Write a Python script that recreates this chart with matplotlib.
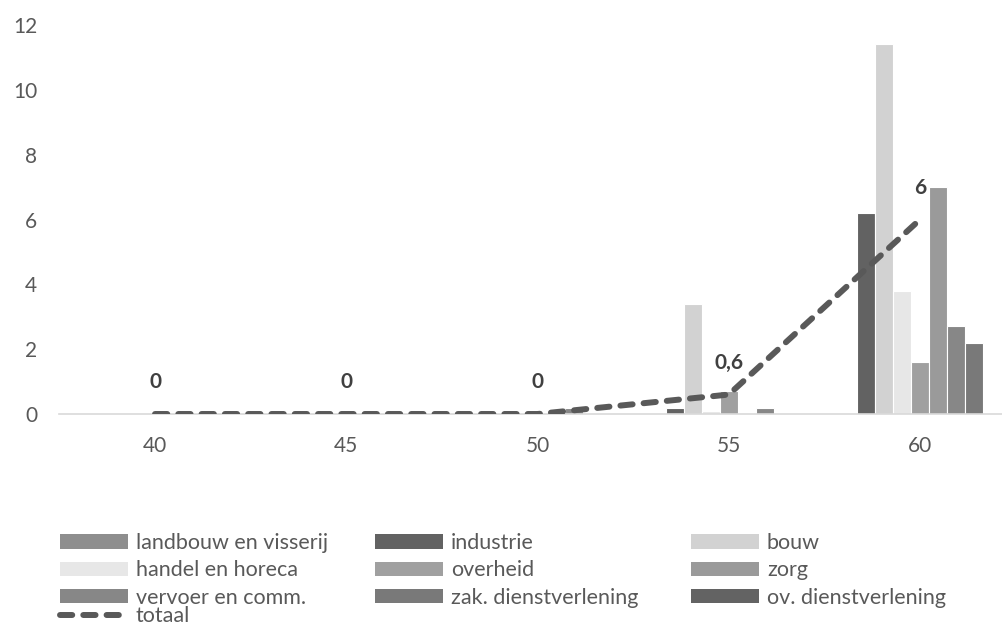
import numpy as np
import matplotlib
matplotlib.use("Agg")
import matplotlib.pyplot as plt
from matplotlib.patches import Patch
from matplotlib.lines import Line2D

# ---------------- data ----------------
categories = ["40", "45", "50", "55", "60"]
series_names = ["landbouw en visserij", "industrie", "bouw", "handel en horeca",
                "overheid", "zorg", "vervoer en comm.", "zak. dienstverlening",
                "ov. dienstverlening"]
landbouw = [0, 0, 0, 0, 0]
industrie = [0, 0, 0, 0.2, 6.2]
bouw = [0, 0, 0, 3.4, 11.4]
handel = [0, 0, 0, 0.1, 3.8]
overheid = [0, 0, 0, 0.7, 1.6]
zorg = [0, 0, 0, 0, 7.0]
vervoer = [0, 0, 0.2, 0.2, 2.7]
zak = [0, 0, 0, 0, 2.2]
ov_dienst = [0, 0, 0, 0, 0]
totaal = [0, 0, 0, 0.6, 6]
totaal_labels = ["0", "0", "0", "0,6", "6"]
y_ticks = [0, 2, 4, 6, 8, 10, 12]

series_values = [landbouw, industrie, bouw, handel, overheid, zorg, vervoer, zak, ov_dienst]
colors = ["#8e8e8e", "#626262", "#d2d2d2", "#e7e7e7", "#a0a0a0",
          "#9a9a9a", "#878787", "#797979", "#636363"]

FONT = "Lato"
FS = 15
LFS = 15.5
TXT = "#595959"

W, H = 1003, 627
fig = plt.figure(figsize=(W / 100, H / 100), dpi=100)
# axes: category centre spacing ~191 px, first centre at x=155; y=0 at 414 px, y=12 at 25 px
ax = fig.add_axes([59.4 / W, (H - 414) / H, 956.25 / W, 389 / H])

x = np.arange(len(categories))
bw = 18 / 191.25
n = len(series_values)
for i, (name, vals, c) in enumerate(zip(series_names, series_values, colors)):
    ax.bar(x + (i - (n - 1) / 2) * bw, vals, width=bw, color=c,
           edgecolor="white", linewidth=0.8, label=name, zorder=2)

lw = 4.3
line, = ax.plot(x, totaal, color="#595959", linewidth=lw, solid_capstyle="round",
                dash_capstyle="round", dash_joinstyle="round", zorder=3)
line.set_dashes([2.05, 1.85])

for xi, yi, lab in zip(x, totaal, totaal_labels):
    ax.annotate(lab, (xi, yi), xytext=(0, 23), textcoords="offset points",
                ha="center", va="center", fontsize=FS, fontweight="bold",
                color="#404040", family=FONT)

ax.set_xlim(-0.5, len(categories) - 0.5)
ax.set_ylim(0, 12)
ax.set_xticks(x)
ax.set_xticklabels(categories)
ax.set_yticks(y_ticks)
for s in ["top", "right", "left"]:
    ax.spines[s].set_visible(False)
ax.spines["bottom"].set_color("#d9d9d9")
ax.spines["bottom"].set_linewidth(1.2)
ax.spines["bottom"].set_zorder(2.5)
ax.tick_params(axis="both", length=0, pad=16, labelsize=FS, labelcolor=TXT)
for lab in ax.get_xticklabels() + ax.get_yticklabels():
    lab.set_family(FONT)

# legend: three columns, row-major order like the original
fs_px = LFS * 100 / 72
bar_handles = [Patch(facecolor=c, edgecolor="none") for c in colors]
line_handle = Line2D([], [], color="#595959", linewidth=lw, dash_capstyle="round")
line_handle.set_dashes([2.05, 1.85])
columns = [
    ([bar_handles[0], bar_handles[3], bar_handles[6]],
     [series_names[0], series_names[3], series_names[6]], 60),
    ([bar_handles[1], bar_handles[4], bar_handles[7]],
     [series_names[1], series_names[4], series_names[7]], 375),
    ([bar_handles[2], bar_handles[5], bar_handles[8]],
     [series_names[2], series_names[5], series_names[8]], 691),
]
common = dict(frameon=False, borderpad=0, borderaxespad=0,
              handlelength=68 / fs_px, handleheight=14 / fs_px,
              handletextpad=8 / fs_px, labelspacing=0.34,
              prop={"family": FONT, "size": LFS})
for hs, ls, xpx in columns:
    leg = fig.legend(hs, ls, loc="upper left", bbox_to_anchor=(xpx / W, (H - 533) / H),
                     **common)
    for tx in leg.get_texts():
        tx.set_color(TXT)
leg = fig.legend([line_handle], ["totaal"], loc="center left",
                 bbox_to_anchor=(60 / W, (H - 616) / H), **common)
for tx in leg.get_texts():
    tx.set_color(TXT)

fig.savefig("out.png", dpi=100)
